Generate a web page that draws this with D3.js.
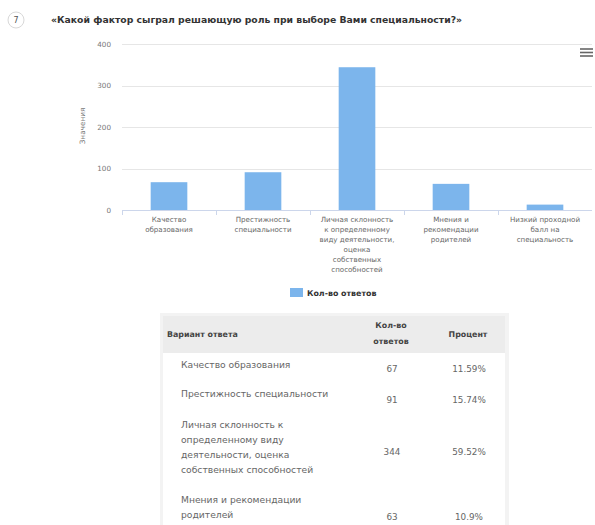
<!DOCTYPE html>
<html><head><meta charset="utf-8">
<script src="https://cdn.jsdelivr.net/npm/d3@7"></script>
<style>html,body{margin:0;padding:0;background:#fff;}svg{display:block;font-family:"DejaVu Sans",Verdana,sans-serif;}</style>
</head><body>
<svg id="c" width="595" height="525"></svg>
<script>
const questionNumber = "7";
const title = "«Какой фактор сыграл решающую роль при выборе Вами специальности?»";
const categories = ["Качество образования","Престижность специальности","Личная склонность к определенному виду деятельности, оценка собственных способностей","Мнения и рекомендации родителей","Низкий проходной балл на специальность"];
const axisLabelLines = [["Качество","образования"],["Престижность","специальности"],["Личная склонность","к определенному","виду деятельности,","оценка","собственных","способностей"],["Мнения и","рекомендации","родителей"],["Низкий проходной","балл на","специальность"]];
const counts = [67, 91, 344, 63, 13];
const percents = ["11.59%","15.74%","59.52%","10.9%","2.25%"];
const yTicks = [0,100,200,300,400];
const yTitle = "Значения";
const seriesName = "Кол-во ответов";
const tableHeaders = ["Вариант ответа",["Кол-во","ответов"],"Процент"];
const tableLabelLines = [["Качество образования"],["Престижность специальности"],["Личная склонность к","определенному виду","деятельности, оценка","собственных способностей"],["Мнения и рекомендации","родителей"]];

const svg = d3.select("#c");
const color = "#7cb5ec";

function fitText(sel, w) {
  const n = sel.node(); const cur = n.getComputedTextLength();
  const fs = parseFloat(sel.attr("font-size"));
  sel.attr("font-size", fs * w / cur);
}

// header
svg.append("circle").attr("cx",16).attr("cy",20).attr("r",8).attr("fill","#fff").attr("stroke","#d8d8d8").attr("stroke-width",1);
svg.append("text").attr("x",16).attr("y",23).attr("text-anchor","middle").attr("font-size",8).attr("fill","#555").text(questionNumber);
const tt = svg.append("text").attr("x",51).attr("y",22.5).attr("font-size",8.5).attr("font-weight","bold").attr("fill","#333").text(title);
fitText(tt, 412);

// chart
const y = d3.scaleLinear().domain([0,400]).range([210,44]);
const x = d3.scaleBand().domain(categories).range([122,592]).paddingInner(0.61).paddingOuter(0.305);
const xStep = d3.scaleBand().domain(categories).range([122,592]);

const grid = svg.append("g");
grid.selectAll("line").data(yTicks.filter(t=>t>0)).join("line")
  .attr("x1",122).attr("x2",592).attr("y1",d=>Math.round(y(d))+0.5).attr("y2",d=>Math.round(y(d))+0.5)
  .attr("stroke","#e6e6e6").attr("stroke-width",1);

const yAxis = d3.axisLeft(y).tickValues(yTicks).tickSize(0).tickPadding(11);
const ya = svg.append("g").attr("transform","translate(122,0)").call(yAxis);
ya.select(".domain").remove();
ya.selectAll("text").attr("font-size",7.2).attr("fill","#777").attr("font-family","DejaVu Sans, Verdana, sans-serif");

svg.append("text").attr("transform","translate(85,126) rotate(-90)").attr("text-anchor","middle")
  .attr("font-size",7.3).attr("fill","#777").text(yTitle);

svg.append("g").selectAll("rect").data(categories).join("rect")
  .attr("x",d=>x(d)).attr("width",x.bandwidth())
  .attr("y",(d,i)=>y(counts[i])).attr("height",(d,i)=>y(0)-y(counts[i]))
  .attr("fill",color);

// x axis
svg.append("line").attr("x1",122).attr("x2",592).attr("y1",210.5).attr("y2",210.5).attr("stroke","#ccd6eb");
svg.append("g").selectAll("line").data(categories).join("line")
  .attr("x1",d=>Math.round(xStep(d))+0.5).attr("x2",d=>Math.round(xStep(d))+0.5)
  .attr("y1",210).attr("y2",215).attr("stroke","#ccd6eb");

const lbl = svg.append("g");
categories.forEach((c,i)=>{
  const cx = xStep(c)+xStep.bandwidth()/2;
  const t = lbl.append("text").attr("text-anchor","middle").attr("font-size",7.1).attr("fill","#666");
  axisLabelLines[i].forEach((l,j)=>{
    t.append("tspan").attr("x",cx).attr("y",222+j*10).text(l);
  });
});

// legend
svg.append("rect").attr("x",290).attr("y",288).attr("width",13).attr("height",9).attr("fill",color);
svg.append("text").attr("x",307).attr("y",295.5).attr("font-size",7.9).attr("font-weight","bold").attr("fill","#333").text(seriesName);

// menu icon
svg.append("g").selectAll("line").data([49,52.5,56]).join("line")
  .attr("x1",580).attr("x2",593).attr("y1",d=>d).attr("y2",d=>d).attr("stroke","#666").attr("stroke-width",1.6);

// table
const tb = svg.append("g");
tb.append("rect").attr("x",160).attr("y",313).attr("width",349).attr("height",215).attr("fill","#f3f3f3");
tb.append("rect").attr("x",163).attr("y",353).attr("width",342).attr("height",175).attr("fill","#fff");
tb.append("rect").attr("x",163).attr("y",316).attr("width",342).attr("height",37).attr("fill","#ececec");

tb.append("text").attr("x",167).attr("y",337).attr("font-size",7.9).attr("font-weight","bold").attr("fill","#444").text(tableHeaders[0]);
const h2 = tb.append("text").attr("text-anchor","middle").attr("font-size",7.9).attr("font-weight","bold").attr("fill","#444");
tableHeaders[1].forEach((l,j)=>h2.append("tspan").attr("x",391).attr("y",328+j*16).text(l));
tb.append("text").attr("x",468).attr("y",337).attr("text-anchor","middle").attr("font-size",7.9).attr("font-weight","bold").attr("fill","#444").text(tableHeaders[2]);

const rowLabelY = [365, 394, 425, 500];
const rowValueY = [369, 400, 452, 517];
tableLabelLines.forEach((lines,i)=>{
  const t = tb.append("text").attr("font-size",9.2).attr("fill","#666");
  lines.forEach((l,j)=>t.append("tspan").attr("x",181).attr("y",rowLabelY[i]+3+j*15).text(l));
  tb.append("text").attr("x",392).attr("y",rowValueY[i]+3).attr("text-anchor","middle").attr("font-size",8.8).attr("fill","#666").text(counts[i]);
  tb.append("text").attr("x",469).attr("y",rowValueY[i]+3).attr("text-anchor","middle").attr("font-size",8.8).attr("fill","#666").text(percents[i]);
});
</script>
</body></html>
